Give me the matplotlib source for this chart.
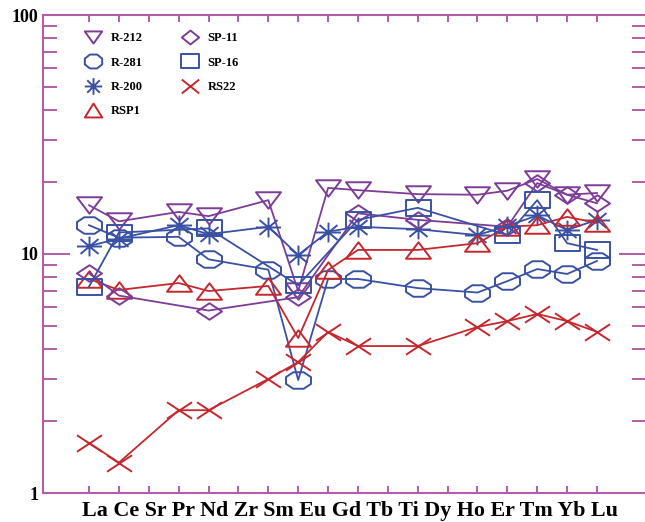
import numpy as np
import matplotlib
matplotlib.use("Agg")
import matplotlib.pyplot as plt
from matplotlib.path import Path
from matplotlib.lines import Line2D

# x slots (one unlabeled slot between Dy and Ho)
slots = ["La", "Ce", "Sr", "Pr", "Nd", "Zr", "Sm", "Eu", "Gd", "Tb", "Ti",
         "Dy", "Y", "Ho", "Er", "Tm", "Yb", "Lu"]
axis_labels = ["La", "Ce", "Sr", "Pr", "Nd", "Zr", "Sm", "Eu", "Gd", "Tb",
               "Ti", "Dy", "Ho", "Er", "Tm", "Yb", "Lu"]
ree = ["La", "Ce", "Pr", "Nd", "Sm", "Eu", "Gd", "Tb", "Dy", "Ho", "Er",
       "Tm", "Yb", "Lu"]

nan = np.nan
r212 = [16.0, 13.7, 15.0, 14.4, 16.8, 7.0, 18.9, 18.5, 17.8, 17.7, 18.4, 20.6, 17.7, 18.0]
r281 = [13.2, 11.7, 11.8, 9.5, 8.6, 2.97, 7.86, 7.86, 7.2, 6.9, 7.7, 8.65, 8.25, 9.35]
r200 = [10.8, 11.6, 13.2, 12.1, 13.0, 9.9, 12.4, 13.0, 12.7, 12.0, 13.1, 14.5, 12.6, 13.9]
rsp1 = [7.86, 7.07, 7.56, 7.0, 7.35, 4.45, 8.57, 10.4, 10.4, 11.1, 13.0, 13.2, 14.3, 13.5]
sp11 = [8.3, 6.7, nan, 5.8, nan, 6.6, nan, 14.8, 13.9, nan, 13.0, 19.8, 17.7, 16.3]
sp16 = [7.3, 12.3, nan, 12.8, nan, 7.4, nan, 13.9, 15.6, nan, 12.0, 16.8, 11.1, 10.4]
rs22 = [1.62, 1.34, 2.22, 2.22, 3.0, 3.53, 4.72, 4.12, 4.12, 4.95, 5.24, 5.61, 5.24, 4.72]

purple = "#7d3c96"
blue = "#3a51a3"
red = "#c4282e"
frame = "#b35ca8"


def poly(pts):
    return Path(pts + [pts[0]], closed=True)


def segs(pairs):
    verts, codes = [], []
    for a, b in pairs:
        verts += [a, b]
        codes += [Path.MOVETO, Path.LINETO]
    return Path(verts, codes)


def shapes(h):
    # h = half height relative to half width of 1
    ang = np.deg2rad(22.5 + 45 * np.arange(8))
    c = np.cos(np.deg2rad(22.5))
    octo = [(np.cos(a) / c, h * np.sin(a) / c) for a in ang]
    return {
        "tri_down": poly([(-1, h), (1, h), (0, -h)]),
        "tri_up": poly([(-1, -h), (1, -h), (0, h)]),
        "oct": poly(octo),
        "diamond": poly([(-1, 0), (0, h), (1, 0), (0, -h)]),
        "rect": poly([(-1, -h), (1, -h), (1, h), (-1, h)]),
        "x": segs([((-1, -h), (1, h)), ((-1, h), (1, -h))]),
        "star": segs([((-1, 0), (1, 0)), ((0, -h * 1.2), (0, h * 1.2)),
                      ((-0.72, -0.9 * h), (0.72, 0.9 * h)),
                      ((-0.72, 0.9 * h), (0.72, -0.9 * h))]),
    }


plot_mk = shapes(0.66)
leg_mk = shapes(0.8)
leg_mk["tri_down"] = shapes(0.7)["tri_down"]

samples = [
    ("R-212", r212, purple, "tri_down"),
    ("R-281", r281, blue, "oct"),
    ("R-200", r200, blue, "star"),
    ("RSP1", rsp1, red, "tri_up"),
    ("SP-11", sp11, purple, "diamond"),
    ("SP-16", sp16, blue, "rect"),
    ("RS22", rs22, red, "x"),
]

plt.rcParams["font.family"] = ["Liberation Serif", "DejaVu Serif"]
plt.rcParams["font.weight"] = "bold"

fig = plt.figure(figsize=(6.45, 5.22), dpi=100)
ax = fig.add_axes([43 / 645, 29 / 522, 603 / 645, 478 / 522])

xpos = np.array([slots.index(e) for e in ree])
handles = []
for name, vals, col, mk in samples:
    y = np.array(vals, dtype=float)
    ok = ~np.isnan(y)
    ax.plot(xpos[ok], y[ok], color=col, lw=1.3, marker=plot_mk[mk], ms=18,
            mfc="none", mec=col, mew=1.4)
    handles.append(Line2D([], [], ls="none", marker=leg_mk[mk], ms=12.5,
                          mfc="none", mec=col, mew=1.4, label=name))

ax.set_yscale("log")
ax.set_ylim(1, 100)
ax.set_xlim(-1.54, 18.64)

ax.set_xticks(range(len(slots)))
ax.set_xticklabels([])
ax.set_yticks([1, 10, 100])
ax.set_yticklabels(["1", "10", "100"], fontsize=13, fontweight="bold")
ax.yaxis.set_minor_formatter(plt.NullFormatter())

ax.tick_params(axis="x", which="both", direction="in", top=True, bottom=True,
               length=5, width=1.4, color=frame)
ax.tick_params(axis="y", which="major", direction="in", left=True, right=True,
               length=19.5, width=1.4, color=frame, pad=3.5)
ax.tick_params(axis="y", which="minor", direction="in", left=True, right=True,
               length=10, width=1.4, color=frame)
for s in ax.spines.values():
    s.set_color(frame)
    s.set_linewidth(1.5)
ax.spines["right"].set_visible(False)

# element names written as one line under the axis, as in the original
lab = fig.text(349.5 / 645, 1 - 511 / 522, " ".join(axis_labels),
               ha="center", va="center", fontsize=14.5, fontweight="bold")
fig.canvas.draw()
w = lab.get_window_extent().width
lab.set_fontsize(14.5 * 535 / w)

ax.legend(handles=handles, ncol=2, frameon=False,
          loc="upper left", bbox_to_anchor=(87 / 645, 1 - 32 / 522),
          bbox_transform=fig.transFigure, borderpad=0, borderaxespad=0,
          handlelength=1.0, handletextpad=0.9, labelspacing=1.0,
          columnspacing=3.3, prop={"weight": "bold", "size": 9})

fig.savefig("out.png", dpi=100)
